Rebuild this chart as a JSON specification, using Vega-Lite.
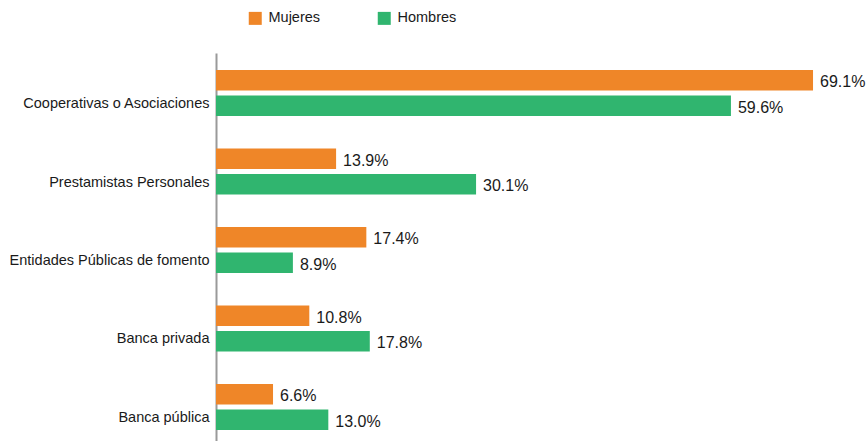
{
  "$schema": "https://vega.github.io/schema/vega-lite/v6.json",
  "autosize": "none",
  "width": 648,
  "height": 394,
  "padding": {"left": 216, "top": 53, "right": 3, "bottom": 0},
  "background": "white",
  "config": {"view": {"stroke": null}, "font": "Liberation Sans, Arial, sans-serif"},
  "data": {
    "values": [
      {"cat": "Cooperativas o Asociaciones", "sexo": "Mujeres", "v": 69.1},
      {"cat": "Cooperativas o Asociaciones", "sexo": "Hombres", "v": 59.6},
      {"cat": "Prestamistas Personales", "sexo": "Mujeres", "v": 13.9},
      {"cat": "Prestamistas Personales", "sexo": "Hombres", "v": 30.1},
      {"cat": "Entidades Públicas de fomento", "sexo": "Mujeres", "v": 17.4},
      {"cat": "Entidades Públicas de fomento", "sexo": "Hombres", "v": 8.9},
      {"cat": "Banca privada", "sexo": "Mujeres", "v": 10.8},
      {"cat": "Banca privada", "sexo": "Hombres", "v": 17.8},
      {"cat": "Banca pública", "sexo": "Mujeres", "v": 6.6},
      {"cat": "Banca pública", "sexo": "Hombres", "v": 13.0}
    ]
  },
  "transform": [{"calculate": "format(datum.v, '.1f') + '%'", "as": "label"}],
  "encoding": {
    "y": {
      "field": "cat",
      "type": "nominal",
      "sort": ["Cooperativas o Asociaciones", "Prestamistas Personales", "Entidades Públicas de fomento", "Banca privada", "Banca pública"],
      "scale": {"paddingInner": 0.414, "paddingOuter": 0.217},
      "axis": {
        "title": null,
        "ticks": false,
        "grid": false,
        "domainColor": "#9a9a9a",
        "domainWidth": 2,
        "labelFontSize": 14.5,
        "labelColor": "#1a1a1a",
        "labelPadding": 7,
        "labelOffset": 11,
        "labelLimit": 400
      }
    },
    "yOffset": {
      "field": "sexo",
      "type": "nominal",
      "sort": ["Mujeres", "Hombres"],
      "scale": {"paddingInner": 0.2, "paddingOuter": 0}
    },
    "x": {"field": "v", "type": "quantitative", "scale": {"domain": [0, 75]}, "axis": null}
  },
  "layer": [
    {
      "mark": {"type": "bar"},
      "encoding": {
        "color": {
          "field": "sexo",
          "type": "nominal",
          "sort": ["Mujeres", "Hombres"],
          "scale": {"domain": ["Mujeres", "Hombres"], "range": ["#EF8628", "#30B56F"]},
          "legend": {
            "orient": "none",
            "legendX": 32,
            "legendY": -42,
            "direction": "horizontal",
            "title": null,
            "symbolType": "square",
            "symbolSize": 169,
            "symbolStrokeWidth": 0,
            "labelFontSize": 14.5,
            "labelColor": "#1a1a1a",
            "labelOffset": 6,
            "columnPadding": 56
          }
        }
      }
    },
    {
      "mark": {"type": "text", "align": "left", "baseline": "middle", "dx": 7, "dy": 2, "fontSize": 16, "color": "#1a1a1a"},
      "encoding": {"text": {"field": "label", "type": "nominal"}}
    }
  ]
}
